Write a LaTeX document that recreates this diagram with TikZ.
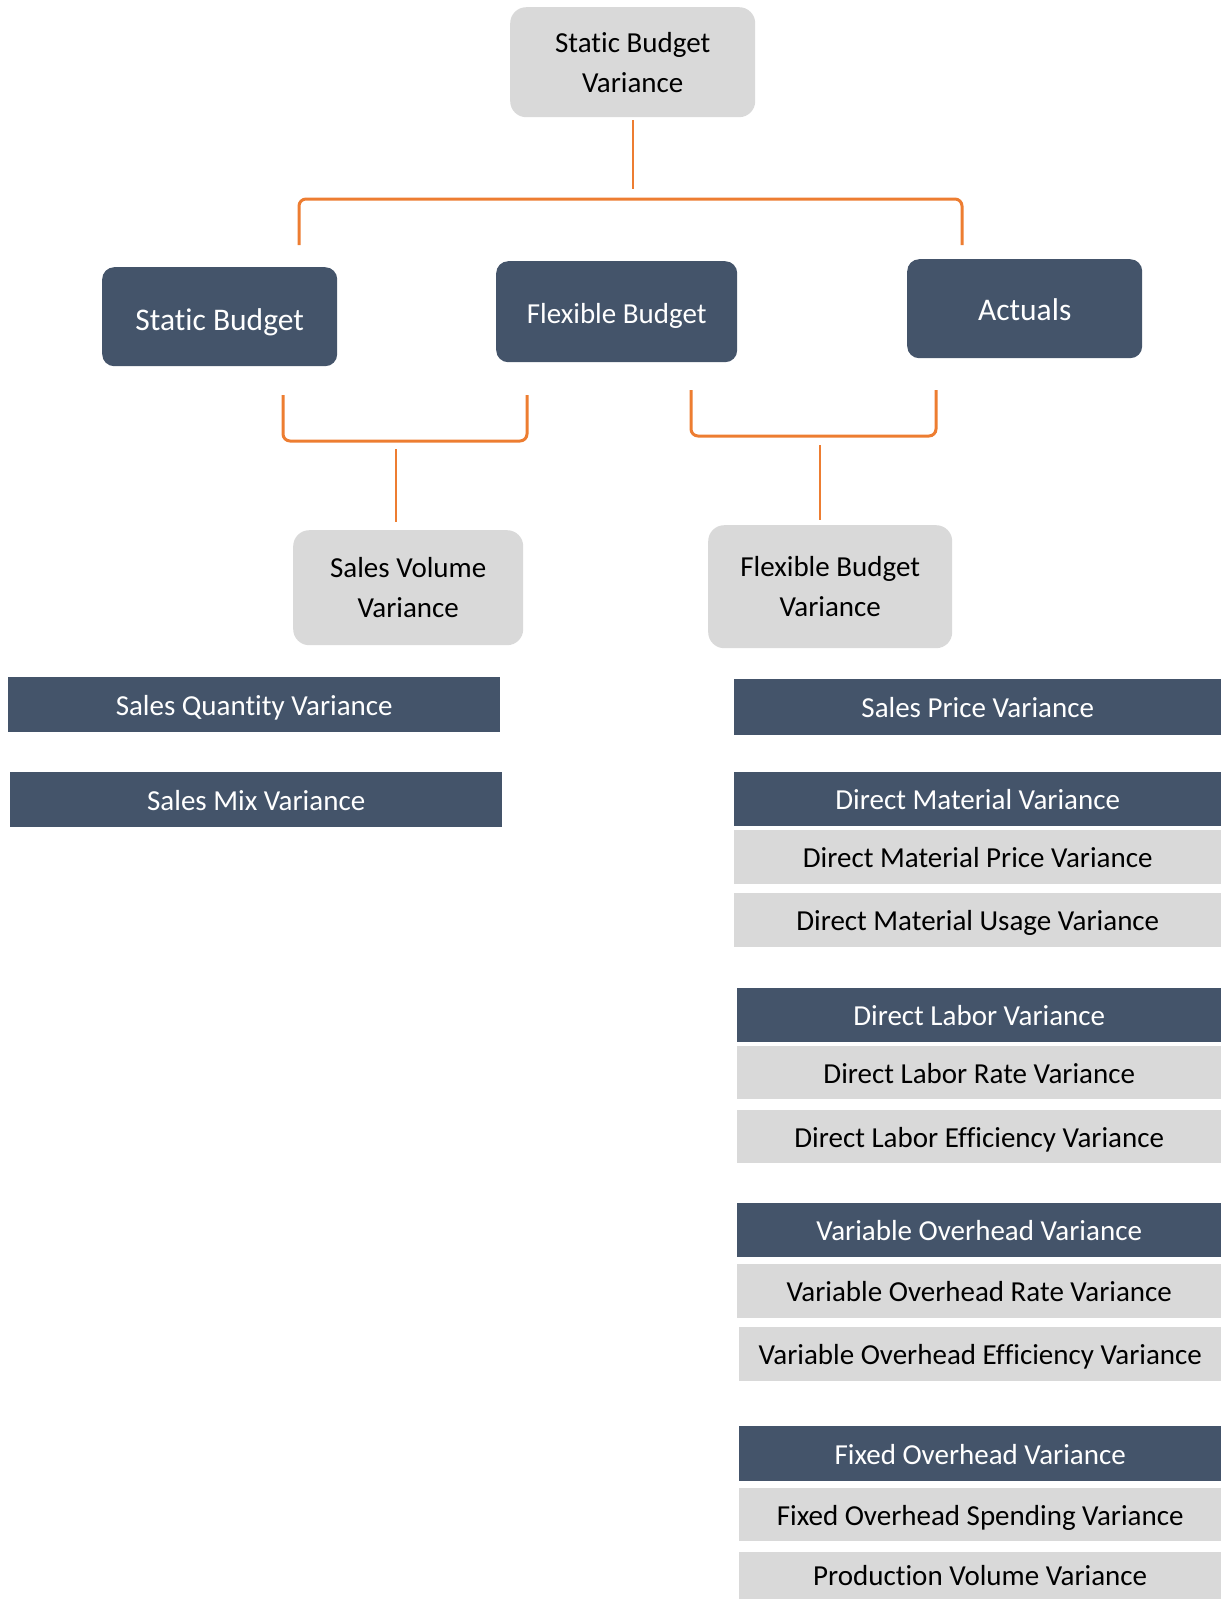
\documentclass[tikz,border=0pt]{standalone}
\usepackage{fontspec}
\setmainfont{Carlito}[Ligatures={NoCommon}]

\definecolor{slate}{HTML}{44546A}
\definecolor{lightgray}{HTML}{D9D9D9}
\definecolor{accent}{HTML}{ED7D31}

\tikzset{
  head/.style={fill=lightgray, rounded corners=16pt, align=center, inner sep=0pt,
    font=\fontsize{29}{40}\selectfont},
  input/.style={fill=slate, text=white, rounded corners=12pt, inner sep=0pt,
    text height=24pt, text depth=0pt, font=\fontsize{31.5}{38}\selectfont},
  darkbar/.style={fill=slate, text=white, inner sep=0pt, anchor=north west,
    text height=21pt, text depth=0pt, font=\fontsize{29}{35}\selectfont},
  graybar/.style={fill=lightgray, inner sep=0pt, anchor=north west,
    text height=21pt, text depth=0pt, font=\fontsize{29}{35}\selectfont},
  link/.style={draw=accent, line width=2pt},
  bracket/.style={draw=accent, line width=3pt, rounded corners=7pt}
}

\begin{document}
\begin{tikzpicture}[x=1pt, y=-1pt]
  \useasboundingbox (0,0) rectangle (1221,1599);

  % Top box
  \node[head, anchor=north west, minimum width=245pt, minimum height=110pt] (sbv) at (510,7)
    {Static Budget\\Variance};

  % Inputs
  \node[input, anchor=north west, minimum width=235pt, minimum height=99pt,
    text height=28pt] (sb) at (102,267) {Static Budget};
  \node[input, anchor=north west, minimum width=241pt, minimum height=101pt,
    text height=23pt, font=\fontsize{29}{35}\selectfont] (fb) at (496,261) {Flexible Budget};
  \node[input, anchor=north west, minimum width=235pt, minimum height=99pt] (act) at (907,259) {Actuals};

  % Second level
  \node[head, anchor=north west, minimum width=230pt, minimum height=115pt] (svv) at (293,530)
    {Sales Volume\\Variance};
  \node[head, anchor=north west, minimum width=244pt, minimum height=123pt] (fbv) at (708,525)
    {Flexible Budget\\Variance};

  % Bracket ends
  \coordinate (top-join) at (630,189);
  \coordinate (top-l) at (299,245);
  \coordinate (top-r) at (962,245);
  \coordinate (sv-l) at (283,395);
  \coordinate (sv-r) at (527,395);
  \coordinate (sv-join) at (396,449);
  \coordinate (fv-l) at (691,390);
  \coordinate (fv-r) at (936,390);
  \coordinate (fv-join) at (820,445);

  % Connectors
  \draw[link] ([yshift=-3pt]sbv.south) -- (sbv.south |- top-join);
  \draw[bracket] (top-l) -- (top-l |- 0,199) -- (top-r |- 0,199) -- (top-r);
  \draw[bracket] (sv-l) -- (sv-l |- 0,441) -- (sv-r |- 0,441) -- (sv-r);
  \draw[link] (sv-join) -- (sv-join |- 0,522);
  \draw[bracket] (fv-l) -- (fv-l |- 0,436) -- (fv-r |- 0,436) -- (fv-r);
  \draw[link] (fv-join) -- (fv-join |- 0,520);

  % Sales volume side
  \node[darkbar, minimum width=492pt, minimum height=55pt] (sqv) at (8,677) {Sales Quantity Variance};
  \node[darkbar, minimum width=492pt, minimum height=55pt] (smv) at (10,772) {Sales Mix Variance};

  % Flexible budget side
  \node[darkbar, minimum width=487pt, minimum height=56pt] (spv) at (734,679) {Sales Price Variance};

  \node[darkbar, minimum width=487pt, minimum height=54pt] (dmv) at (734,772) {Direct Material Variance};
  \node[graybar, minimum width=487pt, minimum height=54pt] (dmpv) at (734,830) {Direct Material Price Variance};
  \node[graybar, minimum width=487pt, minimum height=54pt] (dmuv) at (734,893) {Direct Material Usage Variance};

  \node[darkbar, minimum width=484pt, minimum height=54pt] (dlv) at (737,988) {Direct Labor Variance};
  \node[graybar, minimum width=484pt, minimum height=53pt] (dlrv) at (737,1046) {Direct Labor Rate Variance};
  \node[graybar, minimum width=484pt, minimum height=53pt] (dlev) at (737,1110) {Direct Labor Efficiency Variance};

  \node[darkbar, minimum width=484pt, minimum height=54pt] (vov) at (737,1203) {Variable Overhead Variance};
  \node[graybar, minimum width=484pt, minimum height=54pt] (vorv) at (737,1264) {Variable Overhead Rate Variance};
  \node[graybar, minimum width=482pt, minimum height=54pt] (voev) at (739,1327) {Variable Overhead Efficiency Variance};

  \node[darkbar, minimum width=482pt, minimum height=55pt] (fov) at (739,1426) {Fixed Overhead Variance};
  \node[graybar, minimum width=482pt, minimum height=53pt] (fosv) at (739,1488) {Fixed Overhead Spending Variance};
  \node[graybar, minimum width=482pt, minimum height=53pt, text depth=8pt] (pvv) at (739,1552) {Production Volume Variance};
\end{tikzpicture}
\end{document}
